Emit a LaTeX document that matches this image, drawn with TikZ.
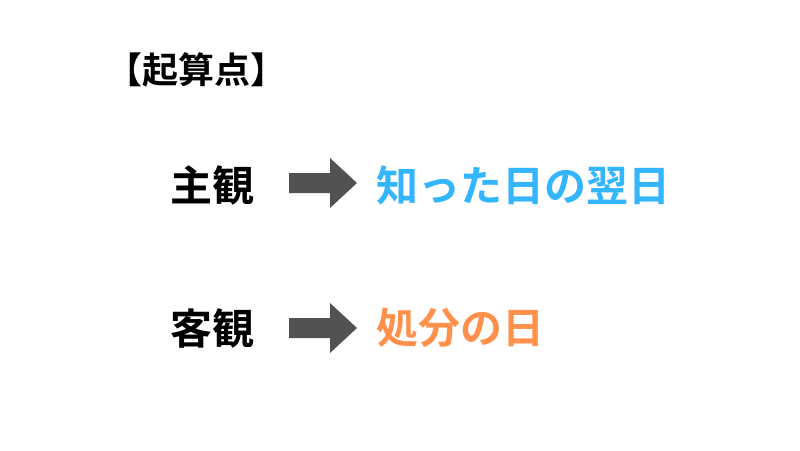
\documentclass[tikz,border=0pt]{standalone}
\usepackage{fontspec}
\newfontfamily\cjk{Noto Sans CJK JP Bold}
\begin{document}
\begin{tikzpicture}[x=1pt,y=-1pt,
  lbl/.style={inner sep=0pt,font=\cjk\fontsize{42}{42}\selectfont},
  arr/.style={fill=black!68}]
\useasboundingbox[fill=white] (0,0) rectangle (800,450);
\node[lbl,anchor=west,font=\cjk\fontsize{36}{36}\selectfont] (title) at (106,70) {【起算点】};
\node[lbl,anchor=west] (s) at (170,185) {主観};
\node[lbl,anchor=west,text={rgb,255:red,51;green,181;blue,255}] (sv) at (376,185) {知った日の翌日};
\node[lbl,anchor=west] (o) at (170,328) {客観};
\node[lbl,anchor=west,text={rgb,255:red,255;green,145;blue,77}] (ov) at (376,328) {処分の日};
\fill[arr] (289,173) -- (330,173) -- (330,158) -- (357,183) -- (330,208) -- (330,193) -- (289,193) -- cycle;
\fill[arr] (289,318) -- (330,318) -- (330,303) -- (357,328) -- (330,353) -- (330,338) -- (289,338) -- cycle;
\end{tikzpicture}
\end{document}
